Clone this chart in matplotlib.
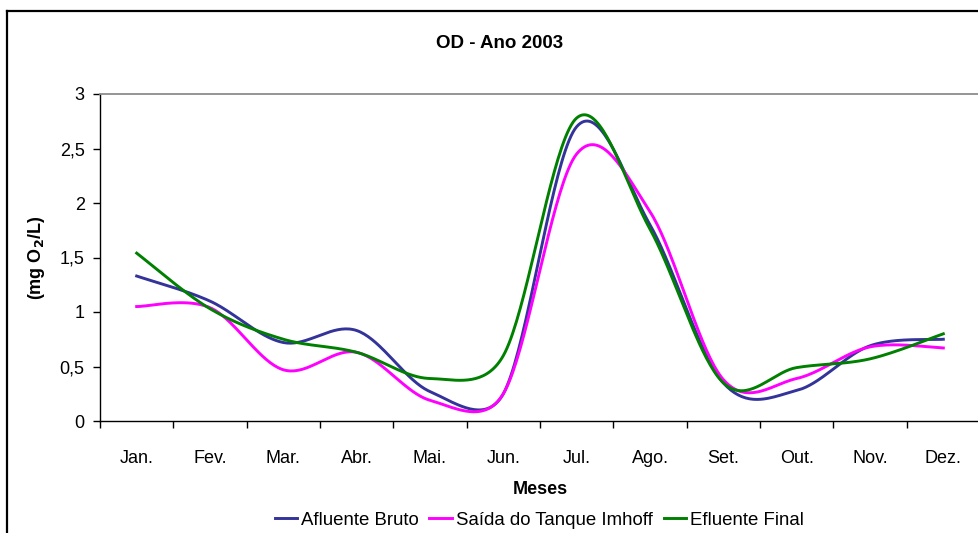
import matplotlib
matplotlib.use("Agg")
import matplotlib.pyplot as plt
import numpy as np
from matplotlib.lines import Line2D

# OD data (mg O2/L)
meses = ['Jan.', 'Fev.', 'Mar.', 'Abr.', 'Mai.', 'Jun.',
         'Jul.', 'Ago.', 'Set.', 'Out.', 'Nov.', 'Dez.']
afluente_bruto = [1.33, 1.10, 0.72, 0.83, 0.27, 0.25, 2.70, 1.80, 0.35, 0.28, 0.69, 0.75]
saida_imhoff = [1.05, 1.04, 0.47, 0.63, 0.19, 0.25, 2.45, 1.92, 0.38, 0.39, 0.68, 0.67]
efluente_final = [1.54, 1.03, 0.75, 0.63, 0.39, 0.60, 2.78, 1.76, 0.35, 0.49, 0.57, 0.80]

series = [
    ('Afluente Bruto', afluente_bruto, '#333399'),
    ('Saída do Tanque Imhoff', saida_imhoff, '#FF00FF'),
    ('Efluente Final', efluente_final, '#008000'),
]


def smooth(ax, x, y, n=40):
    # Excel style smoothing: bezier segments built in screen space,
    # control offsets 1/6 of neighbour chord, capped at half the segment
    pts = ax.transData.transform(np.column_stack([x, y]))
    p = np.vstack([pts[0], pts, pts[-1]])
    t = np.linspace(0, 1, n)[:, None]
    out = []
    for i in range(len(pts) - 1):
        p0, p1, p2, p3 = p[i], p[i + 1], p[i + 2], p[i + 3]
        d12 = np.hypot(*(p2 - p1))
        d02 = np.hypot(*(p2 - p0))
        d13 = np.hypot(*(p3 - p1))
        f1 = 1 / 6 if d02 / 6 < d12 / 2 else d12 / d02 / 2
        f2 = 1 / 6 if d13 / 6 < d12 / 2 else d12 / d13 / 2
        c1 = p1 + f1 * (p2 - p0)
        c2 = p2 - f2 * (p3 - p1)
        b = (1 - t) ** 3 * p1 + 3 * (1 - t) ** 2 * t * c1 + 3 * (1 - t) * t ** 2 * c2 + t ** 3 * p2
        out.append(b)
    out = ax.transData.inverted().transform(np.vstack(out))
    return out[:, 0], out[:, 1]


plt.rcParams['font.family'] = ['Liberation Sans', 'DejaVu Sans']

W, H = 979, 533
fig = plt.figure(figsize=(W / 100, H / 100), dpi=100)
ax = fig.add_axes([100 / W, 1 - 421 / H, 880 / W, 327 / H])

x = np.arange(len(meses))
ax.set_xlim(-0.5, len(meses) - 0.5)
ax.set_ylim(0, 3)

for name, vals, col in series:
    sx, sy = smooth(ax, x, vals)
    ax.plot(sx, sy, color=col, linewidth=2.1, label=name)

ax.set_yticks([0, 0.5, 1, 1.5, 2, 2.5, 3])
ax.set_yticklabels(['0', '0,5', '1', '1,5', '2', '2,5', '3'])
ax.set_xticks(x)
ax.set_xticklabels(meses)
ax.set_xticks(np.arange(-0.5, len(meses)), minor=True)
ax.tick_params(axis='x', which='major', length=0, pad=21, labelsize=13)
ax.tick_params(axis='x', which='minor', length=5, width=1, direction='out')
ax.tick_params(axis='y', length=5, width=1, direction='out', pad=6, labelsize=13)

ax.spines['right'].set_visible(False)
ax.spines['top'].set_color('#8c8c8c')
ax.spines['top'].set_linewidth(1.3)
ax.spines['left'].set_linewidth(1)
ax.spines['bottom'].set_linewidth(1)

ax.set_xlabel('Meses', fontsize=13, fontweight='bold', labelpad=10)
ax.set_ylabel('(mg O$_\\mathbf{2}$/L)', fontsize=13, fontweight='bold', labelpad=9)
fig.text(500 / W, 1 - 43 / H, 'OD - Ano 2003', fontsize=13.5, fontweight='bold',
         ha='center', va='center')

fig.legend(loc='center', bbox_to_anchor=(539 / W, 1 - 520 / H), ncol=3,
           frameon=False, fontsize=13.4, handlelength=1.2, handletextpad=0.2,
           columnspacing=0.6, borderaxespad=0)

# outer chart border (left and top visible)
fig.add_artist(Line2D([7 / W, 7 / W], [0, 1 - 11 / H], transform=fig.transFigure,
                      color='black', linewidth=1.6))
fig.add_artist(Line2D([7 / W, 1], [1 - 11 / H, 1 - 11 / H], transform=fig.transFigure,
                      color='black', linewidth=1.6))

fig.savefig('out.png', dpi=100)
